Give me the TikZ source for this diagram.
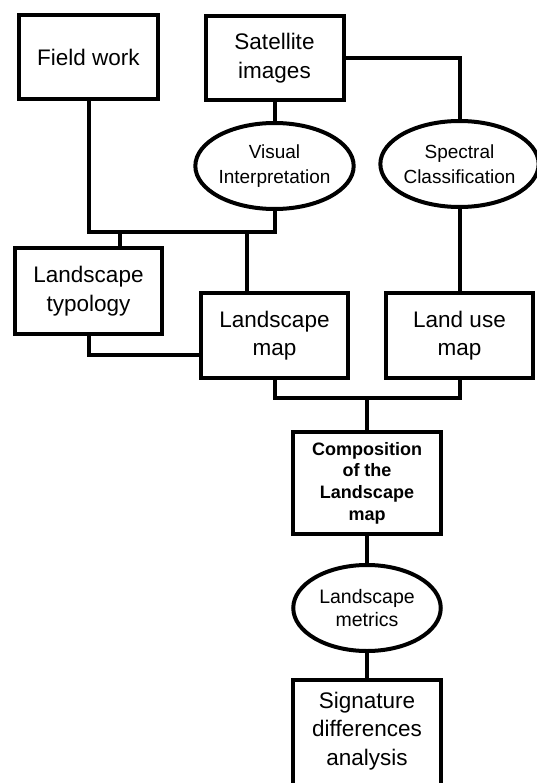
\documentclass[tikz,border=0pt]{standalone}
\usepackage{fontspec}
\setmainfont{Liberation Sans}
\usetikzlibrary{shapes.geometric}
\begin{document}
\begin{tikzpicture}[x=1pt,y=-1pt,
  conn/.style={line width=4pt},
  boxnode/.style={draw, line width=4pt, rectangle, inner sep=0pt, minimum width=147pt, minimum height=85pt, align=center, font=\fontsize{22.5}{28.5}\selectfont},
  ovalnode/.style={draw, line width=4pt, ellipse, inner sep=0pt, minimum width=147.5pt, minimum height=86pt, align=center, font=\fontsize{19}{25}\selectfont}]
\useasboundingbox (0,0) rectangle (537,783);
\clip (0,0) rectangle (537,783);
\node[boxnode, minimum width=139pt, minimum height=84pt] (field) at (88.5,57.5) {Field work};
\node[boxnode, minimum width=138pt, minimum height=84pt] (sat) at (274.5,58) {Satellite\\images};
\node[ovalnode] (vis) at (274.5,166) {Visual\\Interpretation};
\node[ovalnode] (spec) at (459.5,164) {Spectral\\Classification};
\node[boxnode, minimum height=86pt] (typ) at (88.5,291) {Landscape\\typology};
\node[boxnode] (lmap) at (274.5,335.5) {Landscape\\map};
\node[boxnode] (luse) at (459.5,335.5) {Land use\\map};
\node[boxnode, minimum width=148pt, minimum height=102pt, font=\bfseries\fontsize{18}{21.7}\selectfont] (comp) at (367,483) {Composition\\of the\\Landscape\\map};
\node[ovalnode, font=\fontsize{19.5}{23.5}\selectfont] (met) at (367,608) {Landscape\\metrics};
\node[boxnode, minimum width=148pt, minimum height=120pt, anchor=north] (sig) at (367,678) {};
\node[align=center, font=\fontsize{22.5}{28.3}\selectfont, inner sep=0pt] (sigtext) at (367,731) {Signature\\differences\\analysis};
\coordinate (jA) at (0,232);
\coordinate (jB) at (0,355);
\coordinate (jC) at (0,398);
\draw[conn] (sat.south) -- (vis.north);
\draw[conn] (sat.east) -| (spec.north);
\draw[conn] (field.south) -- (field.south |- jA) -- (vis.south |- jA) -- (vis.south);
\draw[conn] ([xshift=31.5pt]typ.north) -- ([xshift=31.5pt]typ.north |- jA);
\draw[conn] ([xshift=-27.5pt]lmap.north) -- ([xshift=-27.5pt]lmap.north |- jA);
\draw[conn] (spec.south) -- (luse.north);
\draw[conn] (typ.south) -- (typ.south |- jB) -- (lmap.west |- jB);
\draw[conn] (lmap.south) -- (lmap.south |- jC) -- (luse.south |- jC) -- (luse.south);
\draw[conn] (comp.north) -- (comp.north |- jC);
\draw[conn] (comp.south) -- (met.north);
\draw[conn] (met.south) -- (sig.north);
\end{tikzpicture}
\end{document}
